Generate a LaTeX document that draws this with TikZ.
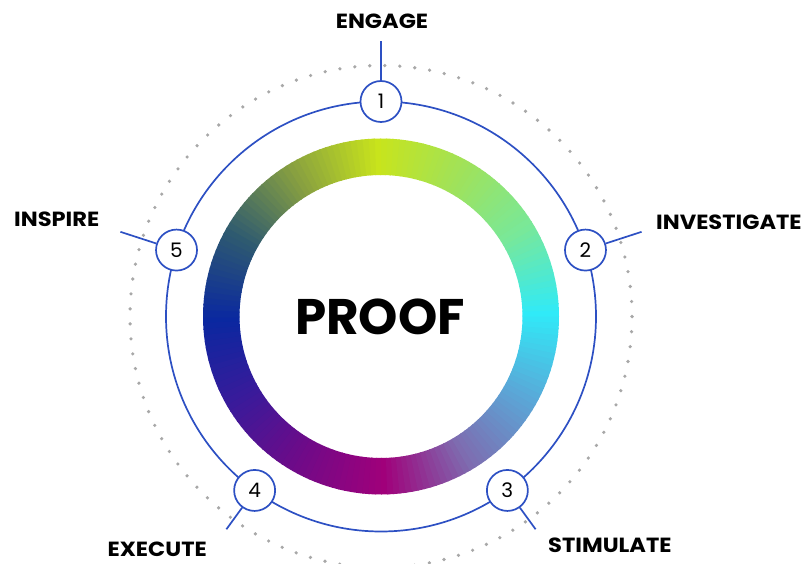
\documentclass[tikz,border=0pt]{standalone}
\usepackage{fontspec}
\usetikzlibrary{calc}
\setmainfont{Poppins}
\newfontfamily\lblfont[FakeStretch=1.1]{Poppins}
\definecolor{ringblue}{HTML}{2D50C3}
\definecolor{dotgray}{HTML}{A8A8A8}
\definecolor{g0}{HTML}{0A28A0}
\definecolor{g1}{HTML}{3A1A9A}
\definecolor{g2}{HTML}{700A88}
\definecolor{g3}{HTML}{A0007A}
\definecolor{g4}{HTML}{7E6CB0}
\definecolor{g5}{HTML}{5AA8D8}
\definecolor{g6}{HTML}{30EAF8}
\definecolor{g7}{HTML}{78E89A}
\definecolor{g8}{HTML}{A0E25A}
\definecolor{g9}{HTML}{C8E41C}
\definecolor{g10}{HTML}{88A040}
\definecolor{g11}{HTML}{2E5A70}
\definecolor{g12}{HTML}{0A28A0}
\tikzset{
  numnode/.style={circle, draw=ringblue, line width=1.7pt, fill=white, minimum size=41pt, inner sep=0pt, font=\fontsize{20}{20}\selectfont},
  leader/.style={draw=ringblue, line width=1.7pt},
  lbl/.style={font=\lblfont\fontsize{20.5}{21}\selectfont\bfseries, inner sep=0pt, text=black},
  title/.style={font=\fontsize{50}{50}\selectfont\bfseries, inner sep=0pt},
}
\begin{document}
\begin{tikzpicture}[x=1pt,y=1pt]
\useasboundingbox (0,0) rectangle (808,563);
\coordinate (C) at (381,246.5);
% dotted circle
\draw[dotgray, line width=3.6pt, line cap=round, dash pattern=on 0pt off 15.02pt] (C) circle[radius=251];
% gradient ring
\begin{scope}[shift={(C)}]
\foreach \k in {0,...,11}{
  \pgfmathtruncatemacro\kk{\k+1}
  \foreach \j in {0,...,14}{
    \pgfmathsetmacro\a{-180+30*\k+2*\j}
    \pgfmathsetmacro\b{\a+2.4}
    \pgfmathsetmacro\p{100-\j*100/15}
    \fill[g\k!\p!g\kk] (\a:178) arc[start angle=\a, end angle=\b, radius=178] -- (\b:141.5) arc[start angle=\b, end angle=\a, radius=141.5] -- cycle;
  }
}
\end{scope}
% blue circle
\draw[ringblue, line width=1.7pt] (C) circle[radius=215];
% title
\node[title] (proof) at ($(C)+(-1,0)$) {PROOF};
% numbered nodes
\node[numnode] (n1) at ($(C)+(90:215)$) {1};
\node[numnode] (n2) at ($(C)+(18:215)$) {2};
\node[numnode] (n3) at ($(C)+(-54:215)$) {3};
\node[numnode] (n4) at ($(C)+(-126:215)$) {4};
\node[numnode] (n5) at ($(C)+(162:215)$) {5};
% leader ends
\coordinate (e1) at ($(C)+(90:275)$);
\coordinate (e2) at ($(C)+(18:274)$);
\coordinate (e3) at ($(C)+(-54:263)$);
\coordinate (e4) at ($(C)+(-126:263)$);
\coordinate (e5) at ($(C)+(162:274)$);
\foreach \i in {1,...,5}{ \draw[leader] (n\i) -- (e\i); }
% labels
\node[lbl] (t1) at (382,542) {ENGAGE};
\node[lbl, anchor=west] (t2) at (656,340.7) {INVESTIGATE};
\node[lbl, anchor=west] (t3) at (548,18) {STIMULATE};
\node[lbl, anchor=east] (t4) at (207,14) {EXECUTE};
\node[lbl, anchor=east] (t5) at (99.5,343.7) {INSPIRE};
\end{tikzpicture}
\end{document}
